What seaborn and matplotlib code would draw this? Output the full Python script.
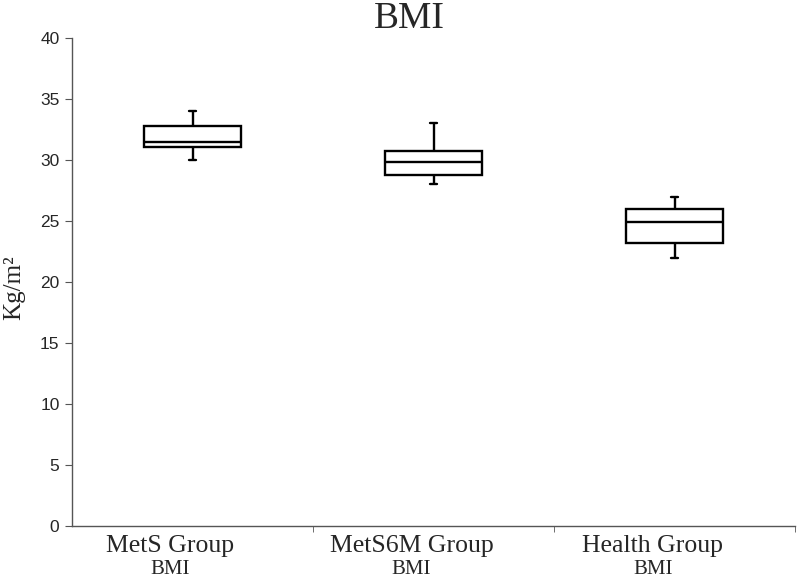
import numpy as np
import pandas as pd
import matplotlib
matplotlib.use("Agg")
import matplotlib.pyplot as plt
import matplotlib.transforms as mtransforms
import seaborn as sns

groups = ["MetS Group", "MetS6M Group", "Health Group"]
# five-number summaries: min, q1, median, q3, max
mets = [30.0, 31.1, 31.5, 32.8, 34.0]
mets6m = [28.0, 28.8, 29.8, 30.7, 33.0]
health = [22.0, 23.2, 24.9, 26.0, 27.0]
sub_label = "BMI"
yticks = [0, 5, 10, 15, 20, 25, 30, 35, 40]

df = pd.DataFrame({
    "group": [groups[0]] * len(mets) + [groups[1]] * len(mets6m) + [groups[2]] * len(health),
    "value": mets + mets6m + health,
})

sns.set_style("ticks")
fig = plt.figure(figsize=(8, 5.8), dpi=100)
ax = fig.add_axes([0.09, 0.0931, 0.904, 0.8414])

sns.boxplot(data=df, x="group", y="value", order=groups, ax=ax,
            whis=np.inf, width=0.4, color="white", linecolor="black",
            linewidth=1.7, capwidths=0.03)

ax.set_ylim(0, 40)
ax.set_xlim(-0.5, 2.5)
ax.set_yticks(yticks)
ax.set_yticklabels([str(t) for t in yticks], family="Liberation Sans", fontsize=12.5)
ax.set_xticks([0, 1, 2])
ax.set_xticklabels([])
ax.tick_params(axis="x", which="major", length=0)
ax.set_xticks([0.5, 1.5, 2.5], minor=True)
ax.tick_params(axis="x", which="minor", length=4, color="#555555")
ax.tick_params(axis="y", length=5, color="#555555", pad=4)
ax.set_xlabel("")
ax.set_ylabel("")
for s in ["top", "right"]:
    ax.spines[s].set_visible(False)
for s in ["left", "bottom"]:
    ax.spines[s].set_color("#555555")
    ax.spines[s].set_linewidth(1.0)

# y axis label
fig.text(14 / 800, 1 - 288 / 580, "Kg/m²", family="Liberation Serif", fontsize=18,
         rotation=90, ha="center", va="center")

# category labels (two lines of different size), slightly left of box centres
base = mtransforms.blended_transform_factory(ax.transData, fig.transFigure)
trans = base + mtransforms.ScaledTranslation(-22 / 100, 0, fig.dpi_scale_trans)
for i, g in enumerate(groups):
    ax.text(i, 1 - 552 / 580, g, transform=trans, ha="center", va="baseline",
            family="Liberation Serif", fontsize=18.5, clip_on=False)
    ax.text(i, 1 - 574 / 580, sub_label, transform=trans, ha="center", va="baseline",
            family="Liberation Serif", fontsize=15, clip_on=False)

fig.text(0.512, 1 - 28 / 580, "BMI", family="Liberation Serif", fontsize=27,
         ha="center", va="baseline")

fig.savefig("out.png", dpi=100)
